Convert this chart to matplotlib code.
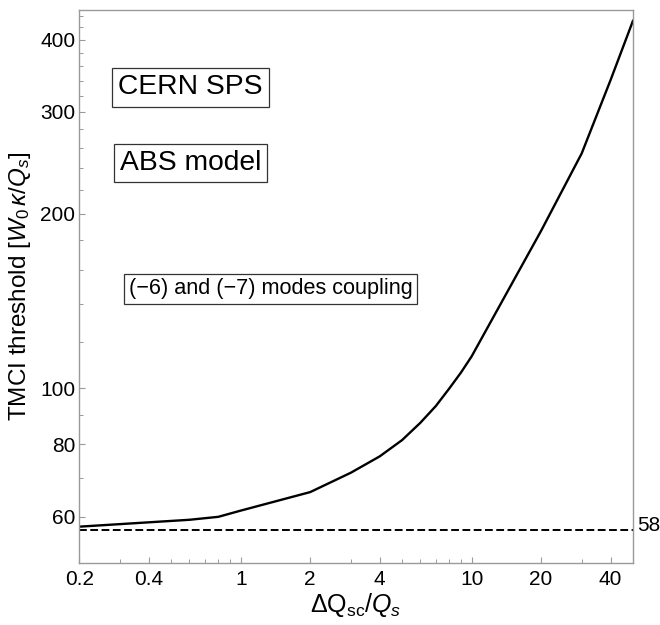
import matplotlib
matplotlib.use("Agg")
import matplotlib.pyplot as plt
from matplotlib.ticker import FixedLocator, NullFormatter, FixedFormatter

plt.rcParams['font.family'] = ['Liberation Sans', 'DejaVu Sans']
plt.rcParams['mathtext.fontset'] = 'custom'
plt.rcParams['mathtext.rm'] = 'Liberation Sans'
plt.rcParams['mathtext.it'] = 'Liberation Sans:italic'
plt.rcParams['mathtext.bf'] = 'Liberation Sans:bold'

# data
dq_sc = [0.2, 0.6, 0.8, 1, 2, 3, 4, 5, 6, 7, 8, 9, 10, 15, 20, 30, 40, 50]
tmci = [57.7, 59.3, 60.0, 61.5, 66.2, 71.5, 76.3, 81.4, 87.2, 93.2, 99.9, 106.5,
        113.5, 152, 187, 254.5, 340.6, 431]
threshold_value = 57
threshold_label = "58"

x_major = [0.2, 0.4, 1, 2, 4, 10, 20, 40]
x_major_labels = ["0.2", "0.4", "1", "2", "4", "10", "20", "40"]
x_minor = [0.3, 0.5, 0.6, 0.7, 0.8, 0.9, 3, 5, 6, 7, 8, 9, 30, 50]
y_major = [60, 80, 100, 200, 300, 400]
y_major_labels = ["60", "80", "100", "200", "300", "400"]
y_minor = [50, 70, 90, 120, 140, 160, 180, 220, 240, 260, 280, 320, 340, 360,
           380, 420, 440]

annotations = ["CERN SPS", "ABS model", "(\u22126) and (\u22127) modes coupling"]

fig = plt.figure(figsize=(6.6, 6.25), dpi=100)
ax = fig.add_axes([0.1202, 0.0997, 0.8388, 0.8843])

ax.plot(dq_sc, tmci, color='black', lw=1.7, solid_joinstyle='round')
ax.axhline(threshold_value, color='black', lw=1.4, linestyle=(0, (4, 1.8)))

ax.set_xscale('log')
ax.set_yscale('log')
ax.set_xlim(0.2, 50)
ax.set_ylim(50, 450)

ax.xaxis.set_major_locator(FixedLocator(x_major))
ax.xaxis.set_major_formatter(FixedFormatter(x_major_labels))
ax.xaxis.set_minor_locator(FixedLocator(x_minor))
ax.xaxis.set_minor_formatter(NullFormatter())
ax.yaxis.set_major_locator(FixedLocator(y_major))
ax.yaxis.set_major_formatter(FixedFormatter(y_major_labels))
ax.yaxis.set_minor_locator(FixedLocator(y_minor))
ax.yaxis.set_minor_formatter(NullFormatter())

frame_col = '#9a9a9a'
for s in ax.spines.values():
    s.set_color(frame_col)
    s.set_linewidth(1.0)
ax.tick_params(which='both', direction='in', color=frame_col, labelcolor='black',
               labelsize=15, top=False, right=False)
ax.tick_params(which='major', length=4.5, width=0.8)
ax.tick_params(which='minor', length=2.8, width=0.7)
ax.tick_params(axis='x', which='major', pad=5)
ax.tick_params(axis='y', which='major', pad=3)

ax.set_xlabel(r"$\Delta\mathrm{Q}_{\mathrm{sc}}/Q_s$", fontsize=18, labelpad=2)
ax.set_ylabel(r"TMCI threshold [$W_0\,\kappa/Q_s$]", fontsize=17.5, labelpad=5)

box = dict(boxstyle='square,pad=0.22', facecolor='white', edgecolor='#333333', lw=0.9)
ax.text(0.2008, 0.8598, annotations[0], transform=ax.transAxes, fontsize=20.3,
        ha='center', va='center', bbox=box)
ax.text(0.2008, 0.7232, annotations[1], transform=ax.transAxes, fontsize=20.3,
        ha='center', va='center', bbox=box)
ax.text(0.3457, 0.4956, annotations[2], transform=ax.transAxes, fontsize=15.6,
        ha='center', va='center', bbox=box)

ax.annotate(threshold_label, xy=(1.0, 58), xycoords=('axes fraction', 'data'),
            xytext=(3, 0), textcoords='offset points', fontsize=15,
            ha='left', va='center', annotation_clip=False)

fig.savefig("out.png", dpi=100)
